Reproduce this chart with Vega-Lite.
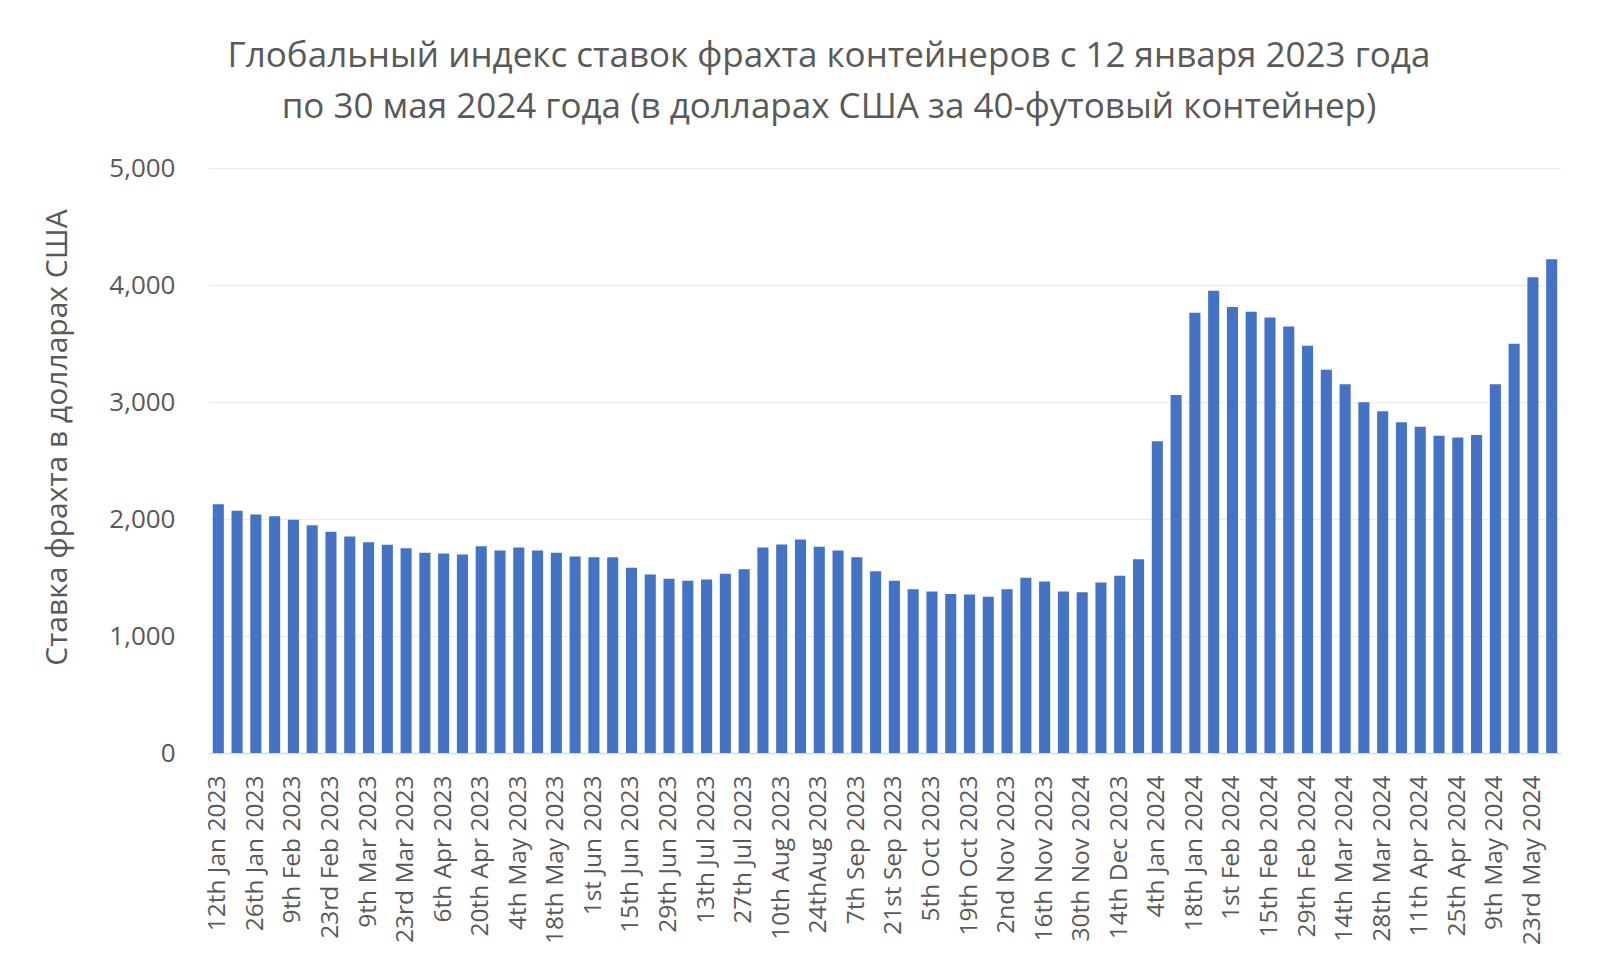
{
  "$schema": "https://vega.github.io/schema/vega-lite/v6.json",
  "width": 1352,
  "height": 585,
  "autosize": {"type": "none"},
  "padding": {"left": 209, "top": 168, "right": 39, "bottom": 212},
  "background": "white",
  "title": {
    "text": ["Глобальный индекс ставок фрахта контейнеров с 12 января 2023 года", "по 30 мая 2024 года (в долларах США за 40-футовый контейнер)"],
    "font": "Open Sans",
    "fontSize": 35,
    "fontWeight": "normal",
    "color": "#595959",
    "anchor": "middle",
    "frame": "group",
    "dx": -56,
    "offset": 30,
    "lineHeight": 51
  },
  "config": {
    "font": "Open Sans",
    "view": {"stroke": null},
    "axis": {
      "labelFont": "Open Sans",
      "titleFont": "Open Sans",
      "labelColor": "#595959",
      "titleColor": "#595959",
      "titleFontWeight": "normal",
      "ticks": false
    }
  },
  "data": {
    "values": [
      {"week": "12th Jan 2023", "rate": 2127},
      {"week": "19th Jan 2023", "rate": 2070},
      {"week": "26th Jan 2023", "rate": 2038},
      {"week": "2nd Feb 2023", "rate": 2024},
      {"week": "9th Feb 2023", "rate": 1993},
      {"week": "16th Feb 2023", "rate": 1947},
      {"week": "23rd Feb 2023", "rate": 1890},
      {"week": "2nd Mar 2023", "rate": 1850},
      {"week": "9th Mar 2023", "rate": 1802},
      {"week": "16th Mar 2023", "rate": 1779},
      {"week": "23rd Mar 2023", "rate": 1750},
      {"week": "30th Mar 2023", "rate": 1711},
      {"week": "6th Apr 2023", "rate": 1705},
      {"week": "13th Apr 2023", "rate": 1697},
      {"week": "20th Apr 2023", "rate": 1768},
      {"week": "27th Apr 2023", "rate": 1731},
      {"week": "4th May 2023", "rate": 1756},
      {"week": "11th May 2023", "rate": 1731},
      {"week": "18th May 2023", "rate": 1711},
      {"week": "25th May 2023", "rate": 1680},
      {"week": "1st Jun 2023", "rate": 1674},
      {"week": "8th Jun 2023", "rate": 1674},
      {"week": "15th Jun 2023", "rate": 1583},
      {"week": "22nd Jun 2023", "rate": 1526},
      {"week": "29th Jun 2023", "rate": 1490},
      {"week": "6th Jul 2023", "rate": 1472},
      {"week": "13th Jul 2023", "rate": 1483},
      {"week": "20th Jul 2023", "rate": 1532},
      {"week": "27th Jul 2023", "rate": 1571},
      {"week": "3rd Aug 2023", "rate": 1756},
      {"week": "10th Aug 2023", "rate": 1782},
      {"week": "17th Aug 2023", "rate": 1825},
      {"week": "24thAug 2023", "rate": 1762},
      {"week": "31st Aug 2023", "rate": 1731},
      {"week": "7th Sep 2023", "rate": 1674},
      {"week": "14th Sep 2023", "rate": 1554},
      {"week": "21st Sep 2023", "rate": 1472},
      {"week": "28th Sep 2023", "rate": 1400},
      {"week": "5th Oct 2023", "rate": 1380},
      {"week": "12th Oct 2023", "rate": 1360},
      {"week": "19th Oct 2023", "rate": 1355},
      {"week": "26th Oct 2023", "rate": 1335},
      {"week": "2nd Nov 2023", "rate": 1400},
      {"week": "9th Nov 2023", "rate": 1497},
      {"week": "16th Nov 2023", "rate": 1466},
      {"week": "23rd Nov 2023", "rate": 1380},
      {"week": "30th Nov 2024", "rate": 1374},
      {"week": "7th Dec 2023", "rate": 1458},
      {"week": "14th Dec 2023", "rate": 1515},
      {"week": "21st Dec 2023", "rate": 1655},
      {"week": "4th Jan 2024", "rate": 2665},
      {"week": "11th Jan 2024", "rate": 3060},
      {"week": "18th Jan 2024", "rate": 3763},
      {"week": "25th Jan 2024", "rate": 3950},
      {"week": "1st Feb 2024", "rate": 3811},
      {"week": "8th Feb 2024", "rate": 3771},
      {"week": "15th Feb 2024", "rate": 3723},
      {"week": "22nd Feb 2024", "rate": 3646},
      {"week": "29th Feb 2024", "rate": 3481},
      {"week": "7th Mar 2024", "rate": 3276},
      {"week": "14th Mar 2024", "rate": 3151},
      {"week": "21st Mar 2024", "rate": 2998},
      {"week": "28th Mar 2024", "rate": 2921},
      {"week": "4th Apr 2024", "rate": 2827},
      {"week": "11th Apr 2024", "rate": 2788},
      {"week": "18th Apr 2024", "rate": 2711},
      {"week": "25th Apr 2024", "rate": 2696},
      {"week": "2nd May 2024", "rate": 2719},
      {"week": "9th May 2024", "rate": 3151},
      {"week": "16th May 2024", "rate": 3498},
      {"week": "23rd May 2024", "rate": 4066},
      {"week": "30th May 2024", "rate": 4220}
    ]
  },
  "mark": {"type": "bar", "color": "#4472C4"},
  "encoding": {
    "x": {
      "field": "week",
      "type": "ordinal",
      "sort": null,
      "scale": {"paddingInner": 0.41, "paddingOuter": 0.2},
      "axis": {
        "title": null,
        "labelAngle": -90,
        "labelFontSize": 24.5,
        "labelPadding": 22,
        "domainColor": "#d9d9d9",
        "domainWidth": 1.5,
        "values": ["12th Jan 2023", "26th Jan 2023", "9th Feb 2023", "23rd Feb 2023", "9th Mar 2023", "23rd Mar 2023", "6th Apr 2023", "20th Apr 2023", "4th May 2023", "18th May 2023", "1st Jun 2023", "15th Jun 2023", "29th Jun 2023", "13th Jul 2023", "27th Jul 2023", "10th Aug 2023", "24thAug 2023", "7th Sep 2023", "21st Sep 2023", "5th Oct 2023", "19th Oct 2023", "2nd Nov 2023", "16th Nov 2023", "30th Nov 2024", "14th Dec 2023", "4th Jan 2024", "18th Jan 2024", "1st Feb 2024", "15th Feb 2024", "29th Feb 2024", "14th Mar 2024", "28th Mar 2024", "11th Apr 2024", "25th Apr 2024", "9th May 2024", "23rd May 2024"]
      }
    },
    "y": {
      "field": "rate",
      "type": "quantitative",
      "scale": {"domain": [0, 5000], "nice": false},
      "axis": {
        "title": "Ставка фрахта в долларах США",
        "titleFontSize": 30,
        "titlePadding": 36,
        "titleY": 269,
        "labelFontSize": 26,
        "labelPadding": 34,
        "format": ",d",
        "values": [0, 1000, 2000, 3000, 4000, 5000],
        "domain": false,
        "gridColor": "#ebebeb",
        "gridWidth": 1
      }
    }
  }
}
